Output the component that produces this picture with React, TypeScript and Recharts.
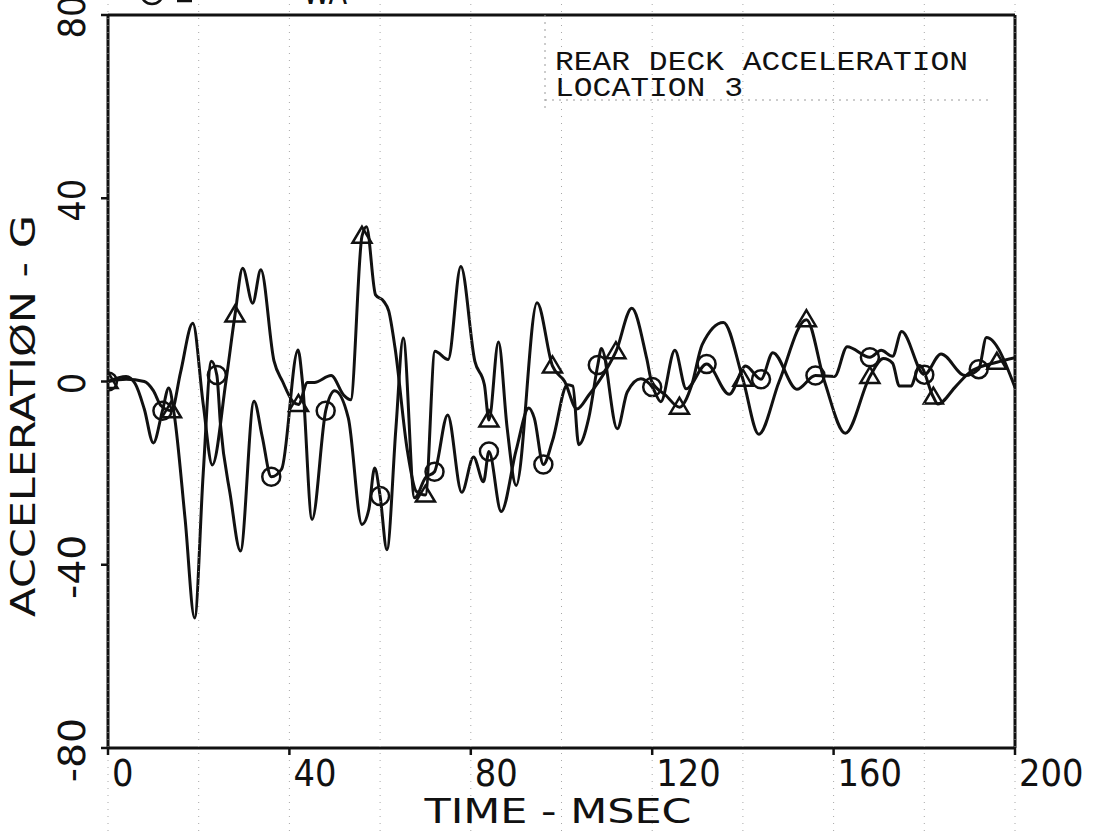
import React from 'react';
import { ComposedChart, Line, XAxis, YAxis, ReferenceLine } from 'recharts';

const W = 1101;
const H = 836;
const PLOT = { left: 108, right: 1015, top: 15, bottom: 748 };
const Y_AXIS_W = 60;
const X_AXIS_H = 40;

// axis ticks
const timeTicks = [0, 20, 40, 60, 80, 100, 120, 140, 160, 180, 200];
const timeLabels = [0, 40, 80, 120, 160, 200];
const accelTicks = [-80, -40, 0, 40, 80];

// series with circle symbols
const circleTimes = [0, 4, 6, 8, 10, 12, 13.4, 14.6, 17, 19.1, 21, 22.8, 24, 24.8, 27, 29.2, 32.2, 34, 36, 38.3, 41.9, 42.9, 45, 48, 50, 53, 56, 57.5, 58.8, 60, 61.5, 63.5, 65.1, 67.6, 70, 72, 74.9, 78, 80.6, 82.8, 84, 86.7, 90, 92.8, 94, 96, 98, 101.3, 102.5, 103.8, 106, 108, 108.8, 112.3, 114.5, 117.5, 120, 121.9, 125, 127.5, 132, 137, 140.6, 144, 146.6, 151.9, 156, 160.2, 163, 168, 170.5, 173, 175, 180, 183.7, 189, 192, 193.7, 200];
const circleValues = [0, 1.1, -0.5, -6, -13.4, -6.4, -1.4, -7.2, -30, -51.6, -20, 4.4, 1.4, -9.4, -25, -37, -4.3, -12, -20.8, -19.1, 6.9, -0.3, -30.1, -6.4, -2, -8, -31.2, -28, -18.9, -25, -36.7, -10, 9.5, -25.4, -21, -19.7, -7.3, -24.2, -16.5, -21.9, -15.3, -28.4, -15, -5.8, -8, -18.1, -13, -0.7, -1, -13.8, -8, 3.6, 7.2, -10.3, -2.3, 0.6, -1.2, -4.4, 6.8, -1.6, 3.8, -2.8, 3.4, 0.5, 6.3, -1.7, 1.3, 1.1, 7.6, 5.3, 6.8, 5.5, 10.9, 1.5, 6.0, 1.3, 2.7, 9.6, -1.3];
const circleMarkTimes = [0, 12, 24, 36, 48, 60, 72, 84, 96, 108, 120, 132, 144, 156, 168, 180, 192];

// series with triangle symbols
const triangleTimes = [0, 4, 8, 10, 11.7, 14, 16, 18.7, 21, 23, 26, 28, 29.7, 31.9, 33.7, 36.6, 38.5, 40.7, 42, 44, 45.5, 49.2, 52, 53.5, 56, 57, 59, 60.8, 61.9, 63.3, 66, 68, 70, 72.1, 75, 77.8, 80.9, 83, 84, 86.1, 88, 90, 94.6, 98, 100.7, 103.4, 106, 110, 112, 115.5, 118.8, 119.9, 123, 126, 128.7, 131, 135.7, 140, 143.5, 148, 154, 158, 162.6, 168, 171, 173, 174.5, 177, 179, 182, 183, 187, 190, 196, 200];
const triangleValues = [0, 0.5, 0, -2, -5.3, -6.4, 2, 12.7, -5, -18.2, 0, 14.5, 24.7, 17.1, 24.4, 4.5, 0, -4.3, -5.0, -0.2, -0.2, 1.3, -3, -4, 31.7, 33.8, 18.9, 17.5, 15.4, 7.3, -15, -24, -24.8, 6.6, 4.8, 25.1, 4.4, -0.7, -8.4, 8.6, -10, -22.7, 17.2, 3.4, 0, -6, -3, 2.8, 6.5, 16, 5.0, 0, -3, -5.6, -0.8, 8, 12.9, 0.5, -11.5, 0, 13.5, 0, -11.3, 1.1, 5, 4, -1, -1, 3.5, -3.4, -4.9, -1, 2, 4.2, 5.2];
const triangleMarkTimes = [0, 14, 28, 42, 56, 70, 84, 98, 112, 126, 140, 154, 168, 182, 196];

const circleData = circleTimes.map((t, i) => ({ t, v: circleValues[i] }));
const triangleData = triangleTimes.map((t, i) => ({ t, v: triangleValues[i] }));

const INK = '#111';
const PLOTTER_FONT = '"DejaVu Sans", "Liberation Sans", sans-serif';
const TYPE_FONT = '"Liberation Mono", "DejaVu Sans Mono", monospace';

const TimeTick = (props: any) => {
  const { x, y, payload } = props;
  const v = payload.value as number;
  const labeled = timeLabels.includes(v);
  const label = String(v);
  return (
    <g>
      <line x1={x} x2={x} y1={y - (PLOT.bottom + 10)} y2={y + (H - PLOT.bottom)} stroke="#a8a8a8" strokeWidth={1} strokeDasharray="1 6" />
      {labeled && <line x1={x} x2={x} y1={y} y2={y + 7} stroke={INK} strokeWidth={2.5} />}
      {labeled && (
        <text x={x + 4} y={y + 38} fontFamily={PLOTTER_FONT} fontSize={38} fill={INK} textLength={label.length * 21.5} lengthAdjust="spacingAndGlyphs">
          {label}
        </text>
      )}
    </g>
  );
};

const AccelTick = (props: any) => {
  const { x, y, payload } = props;
  const label = String(payload.value);
  return (
    <g>
      <line x1={x - 7} x2={x} y1={y} y2={y} stroke={INK} strokeWidth={2.5} />
      <text transform={`translate(${x - 23},${y + 2}) rotate(-90)`} textAnchor="middle" fontFamily={PLOTTER_FONT} fontSize={38} fill={INK} textLength={label.length * 21.5} lengthAdjust="spacingAndGlyphs">
        {label}
      </text>
    </g>
  );
};

const makeDot = (marks: number[], kind: 'circle' | 'triangle') => (props: any) => {
  const { cx, cy, payload, index } = props;
  const key = `${kind}-${index}`;
  if (!marks.includes(payload.t) || cx == null || cy == null) return <g key={key} />;
  if (kind === 'circle') {
    return <circle key={key} cx={cx} cy={cy} r={9} fill="none" stroke={INK} strokeWidth={2.5} />;
  }
  const d = `M${cx - 9.5},${cy + 6.5} L${cx + 9.5},${cy + 6.5} L${cx},${cy - 9.5} Z`;
  return <path key={key} d={d} fill="none" stroke={INK} strokeWidth={2.5} strokeLinejoin="miter" />;
};

const circleDot = makeDot(circleMarkTimes, 'circle');
const triangleDot = makeDot(triangleMarkTimes, 'triangle');

export default function App() {
  return (
    <div style={{ position: 'absolute', left: 0, top: 0, width: W, height: H, background: '#fff', overflow: 'hidden' }}>
      <ComposedChart
        width={W}
        height={H}
        margin={{ top: PLOT.top, right: W - PLOT.right, bottom: H - PLOT.bottom - X_AXIS_H, left: PLOT.left - Y_AXIS_W }}
      >
        <XAxis
          type="number"
          dataKey="t"
          domain={[0, 200]}
          ticks={timeTicks}
          interval={0}
          allowDataOverflow
          height={X_AXIS_H}
          tickSize={0}
          tickMargin={0}
          tickLine={false}
          axisLine={{ stroke: INK, strokeWidth: 3 }}
          tick={<TimeTick />}
        />
        <YAxis
          type="number"
          domain={[-80, 80]}
          ticks={accelTicks}
          interval={0}
          allowDataOverflow
          width={Y_AXIS_W}
          tickSize={0}
          tickMargin={0}
          tickLine={false}
          axisLine={{ stroke: INK, strokeWidth: 3 }}
          tick={<AccelTick />}
        />
        <ReferenceLine y={80} stroke={INK} strokeWidth={3} />
        <ReferenceLine x={200} stroke={INK} strokeWidth={3} />
        <Line data={triangleData} dataKey="v" type="monotone" stroke={INK} strokeWidth={3} dot={triangleDot} activeDot={false} isAnimationActive={false} />
        <Line data={circleData} dataKey="v" type="monotone" stroke={INK} strokeWidth={3} dot={circleDot} activeDot={false} isAnimationActive={false} />
      </ComposedChart>
      <svg width={W} height={H} style={{ position: 'absolute', left: 0, top: 0, pointerEvents: 'none' }}>
        <g fill={INK}>
          <text transform="translate(35,416) rotate(-90)" textAnchor="middle" fontFamily={PLOTTER_FONT} fontSize={34} textLength={402} lengthAdjust="spacingAndGlyphs">
            ACCELERATIØN - G
          </text>
          <text x={558} y={823} textAnchor="middle" fontFamily={PLOTTER_FONT} fontSize={34} textLength={267} lengthAdjust="spacingAndGlyphs">
            TIME - MSEC
          </text>
          <text x={555} y={70} fontFamily={TYPE_FONT} fontSize={28} textLength={413} lengthAdjust="spacingAndGlyphs">
            REAR DECK ACCELERATION
          </text>
          <text x={555} y={96} fontFamily={TYPE_FONT} fontSize={28} textLength={188} lengthAdjust="spacingAndGlyphs">
            LOCATION 3
          </text>
          <text x={303} y={4} fontFamily={PLOTTER_FONT} fontSize={34} textLength={44} lengthAdjust="spacingAndGlyphs">
            WA
          </text>
        </g>
        <circle cx={152} cy={-7} r={11} fill="none" stroke={INK} strokeWidth={2.5} />
        <line x1={177} x2={192} y1={1} y2={1} stroke={INK} strokeWidth={2.5} />
        <line x1={545} x2={990} y1={100} y2={100} stroke="#9a9a9a" strokeWidth={1} strokeDasharray="2 5" />
        <line x1={545} x2={545} y1={15} y2={110} stroke="#9a9a9a" strokeWidth={1} strokeDasharray="2 5" />
      </svg>
    </div>
  );
}
